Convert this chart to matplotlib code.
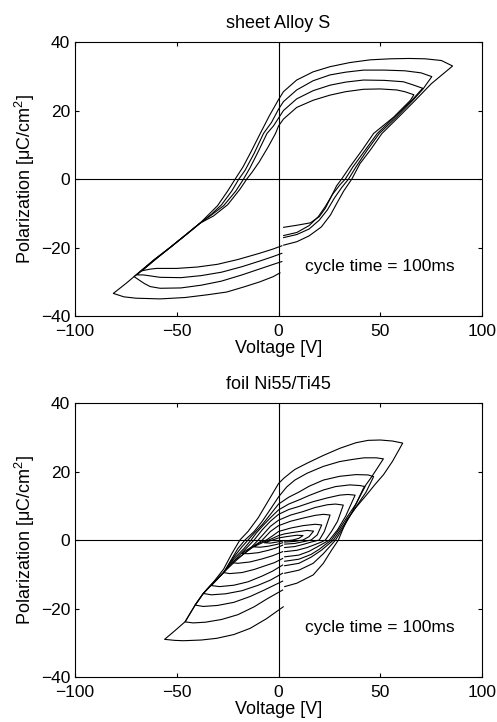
import matplotlib
matplotlib.use("Agg")
import matplotlib.pyplot as plt

plt.rcParams["font.family"] = ["Liberation Sans", "DejaVu Sans"]
plt.rcParams["mathtext.fontset"] = "custom"
plt.rcParams["mathtext.rm"] = "Liberation Sans"
plt.rcParams["mathtext.default"] = "regular"

# --- sheet Alloy S: four loops, each traced start -> right tip -> left tip -> end ---
sheet_a_v = [2.5, 9, 15, 21, 25.5, 28.7, 32, 36, 40, 45, 50.8, 59, 67.2, 75, 85.5,
             80, 72, 64, 55, 45, 35, 25.3, 17, 8.9, 2.4, 0, -4.5, -9, -13.5, -17.5, -21.3,
             -25, -30, -38.6, -46, -53.3, -61, -68, -75, -81.2,
             -76, -70, -58.2, -46, -35, -25.5, -17, -9.1, -2.6, 0.7]
sheet_a_p = [-19.3, -18.3, -16.6, -14, -10.5, -7, -3.5, 0, 4.5, 8.4, 13.3, 18.1, 23, 27.8, 33,
             34.6, 35.1, 35.2, 35.1, 34.8, 34, 32.8, 31.3, 28.9, 25.5, 23.2, 18.5, 13.3, 8, 3.5, 0,
             -3.5, -7.8, -12.9, -16.5, -20, -23.5, -27, -30.5, -33.4,
             -34.4, -34.8, -35, -34.6, -33.8, -33, -31.5, -30, -28.5, -27.4]

sheet_b_v = [2.5, 9, 15, 20, 24, 27.5, 31, 34.4, 38, 43.5, 49.5, 58, 66, 71, 75.3,
             70, 62, 52, 41.7, 33, 25.3, 17, 8.9, 2.4, 0, -3.5, -7.4, -12, -16.5, -19.5,
             -23, -28, -33, -38.6, -46, -53.3, -61, -66, -71,
             -66, -63.1, -58.2, -48, -38, -28, -18, -9, -3, 1.6]
sheet_b_p = [-17.1, -16.2, -14.6, -12, -9, -5.5, -2.5, 0, 3.5, 8.4, 13.3, 18.1, 23, 26.3, 29.9,
             31, 31.6, 31.8, 31.8, 31.2, 30.4, 28.7, 26, 22.6, 20.4, 16.5, 13.3, 7.5, 2.5, 0,
             -3.5, -7.5, -10.3, -12.9, -16.5, -20, -23.5, -26, -28.5,
             -30.5, -31.4, -31.9, -31.8, -31, -29.8, -28, -26.2, -25, -24.1]

sheet_c_v = [2.5, 9, 15, 19.5, 23, 26.5, 30, 32.8, 36.5, 42.5, 48.5, 57, 65.5, 70.8,
             66, 61.3, 52, 41.7, 33, 25.3, 17, 8.9, 2.4, 0, -2.5, -5.7, -10, -14, -17.2,
             -21, -27, -33, -38.6, -46, -53.3, -61, -66, -69.7,
             -66.4, -58.2, -48, -38, -28, -18, -9, -3, 1.6]
sheet_c_p = [-16.5, -15.6, -13.6, -11, -8, -4.5, -1.8, 0, 3.5, 8.4, 13.3, 18.1, 23, 26.5,
             27.5, 28.4, 28.8, 28.9, 28.3, 27.4, 25.8, 23.4, 20, 17.8, 15.5, 13.3, 8, 3.3, 0,
             -3.5, -7.8, -10.5, -12.9, -16.5, -20, -23.7, -26.2, -28,
             -28, -28.7, -28.8, -28.2, -27.2, -25.6, -23.9, -22.7, -21.7]

sheet_d_v = [2.5, 9, 15.6, 20, 23, 26, 28.5, 31, 35, 41, 46.7, 56.6, 64.8, 66.5,
             62, 58.1, 50, 41.7, 33, 25.3, 17, 8.9, 2.4, 0, -1.5, -5, -9.5, -13, -15.6,
             -19, -25, -32, -38.6, -46, -53.3, -60, -64, -67.2,
             -63, -59.9, -50, -40, -30, -20, -10, -3, 1.6]
sheet_d_p = [-14.1, -13.5, -12.8, -11, -8.5, -5, -2, 0, 3.5, 8.4, 13.3, 18.1, 23, 24.6,
             25.5, 26, 26.3, 26.2, 25.5, 24.5, 23, 20.9, 17.5, 15.5, 13.3, 9.5, 5, 2, 0,
             -3, -7.5, -10.8, -12.9, -16.5, -20, -23.2, -25.2, -26.8,
             -26.3, -26.1, -26.1, -25.7, -24.9, -23.5, -21.8, -20.5, -19.5]

# --- foil Ni55/Ti45: ten loops of decreasing amplitude ---
foil_1_v = [3, 9, 17, 22, 26, 29.4, 33.4, 38, 43.4, 47.5, 51.6, 56, 61,
            56, 50, 44, 38, 30.2, 22, 13.9, 8, 5.6, 2.5, 0, -5, -10, -15, -19, -23, -27, -32, -37, -41, -46, -51, -56,
            -51, -46.8, -38, -30.4, -22, -14, -6, 2.3]
foil_1_p = [-13.6, -12.6, -10.2, -6.8, -3, 0, 5.8, 9.5, 13.3, 16.3, 19.1, 23, 28.3,
            28.9, 29.2, 29.1, 28.4, 26.8, 24.7, 22.4, 20.6, 19.5, 18, 16.5, 11.5, 6.5, 2.5, 0, -4, -8.5, -12.3, -15.6, -19, -23.9, -26.5, -29,
            -29.3, -29.4, -29.2, -28.7, -27.6, -25.8, -23, -19.5]

foil_2_v = [3, 10, 17, 22, 25, 28, 32, 36, 41.7, 45.8, 51.5,
            48, 42, 36, 30, 22, 14, 8, 4, 0, -4, -8, -12, -16.5, -20, -23, -27, -32, -37, -41, -45.9,
            -42, -36, -28, -20, -12, -6, 2]
foil_2_p = [-9.7, -8.8, -6.8, -4, -2, 0, 3.8, 8, 15.1, 18.5, 23.7,
            24, 24, 23.5, 22.9, 21.5, 19.5, 17.5, 15.5, 12.6, 9, 5.5, 2.5, 0, -2.5, -5.5, -9.5, -12.5, -15.6, -19, -23.9,
            -24.2, -24, -23.2, -21.8, -19.5, -17.3, -14.6]

foil_3_v = [3, 10, 16, 21, 24, 27, 31, 35, 39, 43, 46.7,
            44, 38, 30, 22, 15, 10, 5, 0, -4, -8, -12, -15, -18, -22, -27, -32, -37, -41,
            -37, -30, -22, -14, -7, 2]
foil_3_p = [-7.5, -6.8, -5, -3, -1.5, 0, 3.5, 7, 10.5, 14, 18.5,
            19, 19.1, 18.6, 17.5, 15.7, 14, 12.5, 10.5, 7.5, 4.5, 2, 0, -2, -5, -9.5, -12.5, -15.6, -19,
            -19.4, -19.1, -18.2, -16.5, -14.6, -12]

foil_4_v = [3, 10, 16, 20, 23, 26, 30, 34, 38, 42.5,
            40, 35, 28, 22, 15, 10, 5, 0, -4, -8, -11, -13.5, -17, -22, -27, -32, -37,
            -33, -26, -18, -10, -4, 2]
foil_4_p = [-6.2, -5.6, -4.2, -2.7, -1.3, 0, 3.3, 7, 10.5, 15.6,
            15.9, 16.1, 15.6, 14.6, 13, 11.7, 10.5, 8.8, 6.5, 4, 2, 0, -2.5, -5.5, -9.5, -12.3, -15.6,
            -16, -15.7, -14.8, -13.2, -11.7, -9.7]

foil_5_v = [3, 10, 15, 19, 22, 25, 29, 33, 37.6,
            34, 30, 24, 17, 10, 5, 0, -4, -8, -12, -16, -21, -27, -33,
            -29, -22, -15, -8, -3, 2]
foil_5_p = [-4.9, -4.4, -3.3, -2, -1, 0, 3, 7, 13.1,
            13.3, 13.1, 12.3, 11.2, 9.8, 8.9, 7.5, 5.5, 3, 0, -2.5, -5.5, -9.5, -13.3,
            -13.6, -13.2, -12.2, -10.5, -9.1, -7.3]

foil_6_v = [3, 9, 14, 18, 21, 23, 26, 29, 31.8,
            28, 24, 18, 12, 6, 0, -4, -7, -10, -14, -20, -27.1,
            -24, -18, -12, -6, -2, 2]
foil_6_p = [-3.4, -3, -2.2, -1.3, -0.6, 0, 2.5, 5.5, 10.2,
            10.5, 10.3, 9.5, 8.3, 7.3, 5.8, 4, 2, 0, -2.5, -5.5, -9.5,
            -9.8, -9.5, -8.6, -7.4, -6.6, -5.4]

foil_7_v = [3, 8, 12, 16, 20, 22.5, 25.3,
            22, 18, 12, 6, 0, -4, -8, -12, -17, -23,
            -20, -14, -8, -3, 2]
foil_7_p = [-2.2, -1.9, -1.3, -0.6, 0, 2.5, 7.3,
            7.5, 7.2, 6.4, 5.5, 4.2, 2.5, 0, -1.8, -4, -6.6,
            -6.8, -6.4, -5.5, -4.6, -3.4]

foil_8_v = [3, 8, 12, 16, 19, 21.2,
            18, 12, 6, 0, -3, -6, -10, -14, -18.1,
            -15, -10, -5, -1, 2]
foil_8_p = [-1.2, -1, -0.5, 0, 1.5, 4.4,
            4.6, 4.2, 3.5, 2.5, 1.2, 0, -1, -2.3, -3.9,
            -4, -3.7, -3, -2.3, -1.5]

foil_9_v = [3, 8, 12, 15, 17.2,
            14, 8, 3, 0, -4, -8, -12.4,
            -9, -5, -1, 2]
foil_9_p = [-0.6, -0.4, 0, 1, 2.6,
            2.8, 2.3, 1.8, 1.3, 0.2, -0.8, -2,
            -2.1, -1.8, -1.3, -0.8]

foil_10_v = [3, 7, 10, 12, 9, 4, 0, -3, -7, -4, -1, 2]
foil_10_p = [-0.3, 0, 0.5, 1.3, 1.4, 1, 0.6, 0, -0.8, -0.9, -0.6, -0.3]

sheet_loops = [(sheet_a_v, sheet_a_p), (sheet_b_v, sheet_b_p),
               (sheet_c_v, sheet_c_p), (sheet_d_v, sheet_d_p)]
foil_loops = [(foil_1_v, foil_1_p), (foil_2_v, foil_2_p), (foil_3_v, foil_3_p),
              (foil_4_v, foil_4_p), (foil_5_v, foil_5_p), (foil_6_v, foil_6_p),
              (foil_7_v, foil_7_p), (foil_8_v, foil_8_p), (foil_9_v, foil_9_p),
              (foil_10_v, foil_10_p)]


def draw_panel(ax, loops, title):
    ax.axhline(0, color="black", lw=0.8)
    ax.axvline(0, color="black", lw=0.8)
    for v, p in loops:
        ax.plot(v, p, color="black", lw=0.8)
    ax.set_xlim(-100, 100)
    ax.set_ylim(-40, 40)
    ax.set_xticks([-100, -50, 0, 50, 100])
    ax.set_yticks([-40, -20, 0, 20, 40])
    ax.tick_params(direction="in", top=True, right=True, length=3, labelsize=12.5)
    ax.tick_params(axis="x", pad=5.5)
    ax.set_title(title, fontsize=13, pad=10)
    ax.set_xlabel("Voltage [V]", fontsize=13, labelpad=1)
    ax.set_ylabel("Polarization [μC/cm$^2$]", fontsize=13, labelpad=3)
    ax.text(13, -25.5, "cycle time = 100ms", fontsize=12.5, va="center")


fig = plt.figure(figsize=(4.97, 7.22), dpi=100)
ax1 = fig.add_axes([0.151, 0.5623, 0.819, 0.3795])
ax2 = fig.add_axes([0.151, 0.0623, 0.819, 0.3795])

draw_panel(ax1, sheet_loops, "sheet Alloy S")
draw_panel(ax2, foil_loops, "foil Ni55/Ti45")

fig.savefig("out.png", dpi=100)
